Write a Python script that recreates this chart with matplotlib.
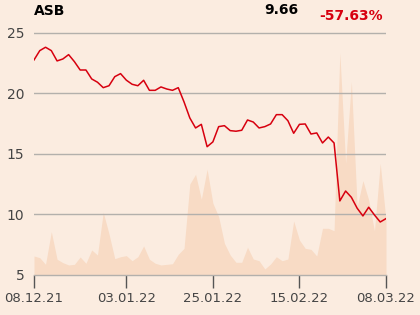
import matplotlib
matplotlib.use("Agg")
import matplotlib.pyplot as plt

# closing prices (trading days 08.12.21 .. 08.03.22)
price = [22.77, 23.54, 23.82, 23.54, 22.69, 22.85, 23.21, 22.63, 21.94, 21.94,
         21.20, 20.93, 20.48, 20.64, 21.39, 21.64, 21.10, 20.76, 20.64, 21.09,
         20.26, 20.26, 20.54, 20.37, 20.26, 20.48, 19.30, 17.98, 17.15, 17.45,
         15.60, 16.00, 17.26, 17.34, 16.93, 16.88, 16.96, 17.81, 17.64, 17.15,
         17.26, 17.48, 18.25, 18.25, 17.75, 16.71, 17.45, 17.48, 16.65, 16.74,
         15.91, 16.40, 15.91, 11.12, 11.94, 11.42, 10.52, 9.88, 10.60, 9.96,
         9.38, 9.66]

# traded volume (relative units)
volume = [1.57, 1.43, 0.88, 3.58, 1.30, 1.02, 0.83, 0.88, 1.49, 0.97,
          2.07, 1.65, 5.18, 3.39, 1.35, 1.51, 1.60, 1.18, 1.51, 2.40,
          1.30, 0.97, 0.83, 0.88, 0.93, 1.71, 2.20, 7.52, 8.32, 6.26,
          8.74, 5.93, 4.82, 2.62, 1.65, 1.05, 1.05, 2.29, 1.32, 1.18,
          0.50, 0.91, 1.51, 1.18, 1.32, 4.46, 2.89, 2.20, 2.12, 1.57,
          3.86, 3.86, 3.66, 18.37, 9.23, 15.98, 5.65, 7.80, 6.20, 3.64,
          9.23, 4.50]

tick_pos = [0, 16, 31, 46, 61]
tick_labels = ["08.12.21", "03.01.22", "25.01.22", "15.02.22", "08.03.22"]
y_ticks = [5, 10, 15, 20, 25]

ticker = "ASB"
last_price = "9.66"
change = "-57.63%"

bg = "#fbece0"
area_col = "#f8dbc5"
line_col = "#d7000f"
grid_col = "#b3b0ac"

fig = plt.figure(figsize=(4.2, 3.15), dpi=100, facecolor=bg)
ax = fig.add_axes([34/420, 1-275/315, 352/420, 247/315])
ax.set_facecolor(bg)
x = list(range(len(price)))

ymin, ymax = 5, 25.41
axv = ax.twinx()
axv.fill_between(x, 0, volume, color=area_col, lw=0, zorder=1)
axv.set_ylim(0, ymax - ymin)
axv.axis("off")
ax.set_zorder(axv.get_zorder() + 1)
ax.patch.set_visible(False)
fig.patches.append(plt.Rectangle((34/420, 1-275/315), 352/420, 247/315,
                                 transform=fig.transFigure, color=bg, zorder=-10))

ax.set_ylim(ymin, ymax)
ax.set_xlim(0, len(price) - 1)
for v in y_ticks[1:]:
    ax.axhline(v, color=grid_col, lw=1.0, zorder=2)
ax.plot(x, price, color=line_col, lw=1.1, zorder=3)

for s in ["top", "right", "left"]:
    ax.spines[s].set_visible(False)
ax.spines["bottom"].set_color(grid_col)
ax.spines["bottom"].set_linewidth(1.0)

ax.set_xticks(tick_pos)
ax.set_xticklabels(tick_labels)
ax.tick_params(axis="x", length=9.5, width=1.0, color="#555555", pad=3,
               labelsize=9.5, labelcolor="#444444")
ax.set_yticks(y_ticks)
ax.set_yticklabels([str(v) for v in y_ticks])
ax.tick_params(axis="y", length=0, pad=7, labelsize=10, labelcolor="#444444")

fig.text(34/420, 1-11/315, ticker, fontsize=10, fontweight="bold", color="black",
         ha="left", va="center")
fig.text(298/420, 1-10/315, last_price, fontsize=10, fontweight="bold", color="black",
         ha="right", va="center")
fig.text(383/420, 1-16/315, change, fontsize=10, fontweight="bold", color=line_col,
         ha="right", va="center")

fig.savefig("out.png", dpi=100, facecolor=bg)
